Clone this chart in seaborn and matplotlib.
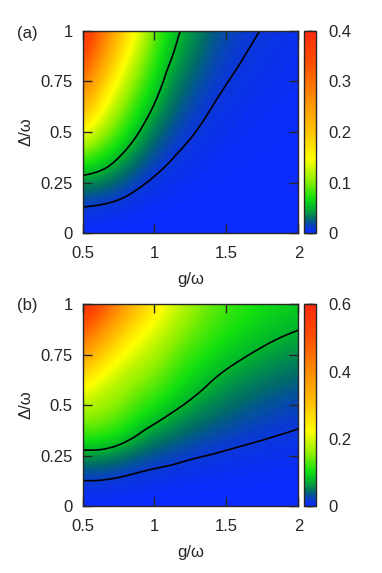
import numpy as np
import seaborn as sns
import matplotlib.pyplot as plt
import matplotlib.tri as mtri
from matplotlib.colors import LinearSegmentedColormap
from matplotlib.ticker import FuncFormatter

g_vals = [0.5, 0.625, 0.75, 0.875, 1.0, 1.125, 1.25, 1.375, 1.5, 1.625, 1.75, 1.875, 2.0]
delta_vals = [0.0, 0.125, 0.25, 0.375, 0.5, 0.625, 0.75, 0.875, 1.0]

# panel (a), one row per delta value
vals_a = [
    [0, 0, 0, 0, 0, 0, 0, 0, 0, 0, 0, 0, 0],
    [0.0095, 0.0082, 0.0061, 0.00355, 0.00192, 0.00114, 0.00071, 0.00044, 0.00029, 0.000205, 0.00015, 0.000114, 0.000089],
    [0.038, 0.0328, 0.0244, 0.0142, 0.0077, 0.00456, 0.00283, 0.00176, 0.00116, 0.00082, 0.0006, 0.000456, 0.000356],
    [0.085, 0.0696, 0.0505, 0.0322, 0.018, 0.0104, 0.00644, 0.00397, 0.0026, 0.00184, 0.00135, 0.00103, 0.0008],
    [0.152, 0.115, 0.082, 0.0537, 0.032, 0.0186, 0.0115, 0.00705, 0.00463, 0.00328, 0.0024, 0.00183, 0.00143],
    [0.225, 0.155, 0.11, 0.075, 0.048, 0.0285, 0.0177, 0.011, 0.00723, 0.00512, 0.00375, 0.00285, 0.00223],
    [0.30, 0.20, 0.14, 0.097, 0.064, 0.039, 0.0255, 0.0159, 0.0104, 0.00737, 0.0054, 0.0041, 0.0032],
    [0.365, 0.26, 0.175, 0.12, 0.078, 0.05, 0.0347, 0.0216, 0.0142, 0.01003, 0.00735, 0.0056, 0.00436],
    [0.40, 0.315, 0.21, 0.145, 0.09, 0.058, 0.042, 0.0275, 0.0183, 0.0131, 0.0096, 0.0073, 0.0057],
]

# panel (b)
vals_b = [
    [0, 0, 0, 0, 0, 0, 0, 0, 0, 0, 0, 0, 0],
    [0.0148, 0.0145, 0.0123, 0.0094, 0.0072, 0.00586, 0.00452, 0.00369, 0.00303, 0.00252, 0.00216, 0.00186, 0.00163],
    [0.059, 0.058, 0.049, 0.0376, 0.0289, 0.0234, 0.0181, 0.01475, 0.0121, 0.0101, 0.00863, 0.00744, 0.0065],
    [0.132, 0.130, 0.111, 0.0845, 0.0651, 0.0515, 0.0411, 0.0333, 0.0274, 0.0228, 0.0193, 0.0166, 0.0145],
    [0.18, 0.168, 0.15, 0.125, 0.105, 0.085, 0.0689, 0.0564, 0.0466, 0.0388, 0.0325, 0.0276, 0.0236],
    [0.25, 0.205, 0.18, 0.158, 0.14, 0.115, 0.0946, 0.0786, 0.0662, 0.0567, 0.0494, 0.0436, 0.0389],
    [0.37, 0.29, 0.225, 0.195, 0.17, 0.14, 0.1187, 0.102, 0.0885, 0.0775, 0.0688, 0.0622, 0.0572],
    [0.50, 0.40, 0.31, 0.24, 0.205, 0.17, 0.1449, 0.1253, 0.1098, 0.0976, 0.088, 0.0806, 0.0755],
    [0.60, 0.53, 0.41, 0.32, 0.25, 0.20, 0.1655, 0.141, 0.1238, 0.1115, 0.1024, 0.0955, 0.0899],
]

levels_a = [0.01, 0.05]
levels_b = [0.015, 0.075]
cbar_ticks_a = [0, 0.1, 0.2, 0.3, 0.4]
cbar_ticks_b = [0, 0.2, 0.4, 0.6]
x_ticks = [0.5, 1, 1.5, 2]
y_ticks = [0, 0.25, 0.5, 0.75, 1]

sns.set_style("ticks")
plt.rcParams['font.family'] = ['Liberation Sans', 'DejaVu Sans']
plt.rcParams['font.size'] = 12

# gnuplot-like palette
cmap = LinearSegmentedColormap.from_list("gp", [
    (0.0, "#0b2bff"), (0.03, "#0a3ad0"), (0.07, "#006a6a"), (0.12, "#00b030"),
    (0.17, "#10e010"), (0.26, "#90f000"), (0.37, "#ffff00"), (0.5, "#ffc400"),
    (0.65, "#ff9200"), (0.85, "#ff4c00"), (1.0, "#ff2a10")])

fmt = FuncFormatter(lambda v, p: f"{v:g}")

def panel(ax, cax, vals, vmax, levels, cticks, tag, tag_y):
    z = np.array(vals)
    dg = g_vals[1] - g_vals[0]
    dd = delta_vals[1] - delta_vals[0]
    im = ax.imshow(z, origin="lower", aspect="auto", cmap=cmap, vmin=0, vmax=vmax,
                   interpolation="bicubic",
                   extent=[g_vals[0] - dg / 2, g_vals[-1] + dg / 2,
                           delta_vals[0] - dd / 2, delta_vals[-1] + dd / 2])
    # contour lines: log of the field, smoothed by matplotlib's cubic refiner
    G, D = np.meshgrid(g_vals, delta_vals[1:])
    tri = mtri.Triangulation(G.ravel(), D.ravel())
    tri_f, z_f = mtri.UniformTriRefiner(tri).refine_field(np.log(z[1:]).ravel(), subdiv=3)
    ax.tricontour(tri_f, z_f, levels=np.log(levels), colors="black",
                  linewidths=1.2, linestyles="solid")
    ax.set_xlim(0.5, 2)
    ax.set_ylim(0, 1)
    ax.set_xticks(x_ticks)
    ax.set_yticks(y_ticks)
    ax.xaxis.set_major_formatter(fmt)
    ax.yaxis.set_major_formatter(fmt)
    ax.tick_params(direction="in", length=6.5, width=1, top=True, right=True,
                   labelsize=12, pad=7)
    ax.tick_params(axis="x", pad=9)
    ax.set_xlabel("g/ω", fontsize=12, labelpad=8)
    ax.set_ylabel("Δ/ω", fontsize=12, labelpad=5)
    for s in ax.spines.values():
        s.set_linewidth(1)
    cb = ax.figure.colorbar(im, cax=cax, ticks=cticks, format=fmt)
    cb.outline.set_linewidth(1)
    cax.tick_params(direction="in", length=6, width=1, left=True, right=True,
                    labelsize=12, pad=9)
    ax.figure.text(0.045, tag_y, tag, fontsize=12, va="center")

fig = plt.figure(figsize=(3.82, 5.73), dpi=100)
ax_a = fig.add_axes([0.2160, 0.5928, 0.5650, 0.3536])
cax_a = fig.add_axes([0.7966, 0.5928, 0.0298, 0.3536])
ax_b = fig.add_axes([0.2160, 0.1169, 0.5650, 0.3520])
cax_b = fig.add_axes([0.7966, 0.1169, 0.0298, 0.3520])

panel(ax_a, cax_a, vals_a, 0.4, levels_a, cbar_ticks_a, "(a)", 0.942)
panel(ax_b, cax_b, vals_b, 0.6, levels_b, cbar_ticks_b, "(b)", 0.467)

fig.savefig("out.png", dpi=100)
